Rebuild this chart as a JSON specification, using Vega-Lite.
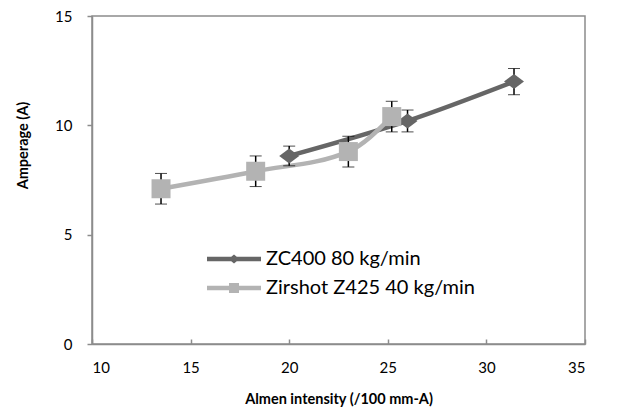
{
  "$schema": "https://vega.github.io/schema/vega-lite/v6.json",
  "width": 493,
  "height": 328,
  "autosize": {"type": "none"},
  "padding": {"left": 92, "top": 16, "right": 40, "bottom": 66},
  "background": "white",
  "config": {
    "font": "Lato",
    "view": {"stroke": "#8c8c8c", "strokeWidth": 1.5},
    "axis": {
      "grid": false,
      "domainColor": "#8c8c8c",
      "domainWidth": 1.5,
      "tickColor": "#8c8c8c",
      "tickWidth": 1.5,
      "labelFont": "Lato",
      "labelFontSize": 15,
      "labelColor": "#000000",
      "titleFont": "Lato",
      "titleFontSize": 14.5,
      "titleFontWeight": "bold",
      "titleColor": "#000000"
    },
    "legend": {
      "title": null,
      "orient": "none",
      "legendX": 132,
      "legendY": 233,
      "labelFont": "Lato",
      "labelFontSize": 20,
      "labelColor": "#000000",
      "labelLimit": 400,
      "symbolSize": 100,
      "labelOffset": 22,
      "rowPadding": 9
    }
  },
  "data": {
    "values": [
      {"series": "ZC400 80 kg/min", "x": 20.0, "y": 8.6, "err": 0.45},
      {"series": "ZC400 80 kg/min", "x": 26.0, "y": 10.2, "err": 0.5},
      {"series": "ZC400 80 kg/min", "x": 31.4, "y": 12.0, "err": 0.6},
      {"series": "Zirshot Z425 40 kg/min", "x": 13.5, "y": 7.1, "err": 0.7},
      {"series": "Zirshot Z425 40 kg/min", "x": 18.3, "y": 7.9, "err": 0.7},
      {"series": "Zirshot Z425 40 kg/min", "x": 23.0, "y": 8.8, "err": 0.7},
      {"series": "Zirshot Z425 40 kg/min", "x": 25.2, "y": 10.4, "err": 0.7}
    ]
  },
  "encoding": {
    "x": {
      "field": "x",
      "type": "quantitative",
      "scale": {"domain": [10, 35], "nice": false, "zero": false},
      "axis": {
        "title": "Almen intensity (/100 mm-A)",
        "values": [10, 15, 20, 25, 30, 35],
        "tickSize": -5,
        "labelPadding": 21,
        "titleAnchor": "middle",
        "titleY": 55,
        "titleBaseline": "middle"
      }
    },
    "y": {
      "field": "y",
      "type": "quantitative",
      "scale": {"domain": [0, 15], "nice": false},
      "axis": {
        "title": "Amperage (A)",
        "values": [0, 5, 10, 15],
        "tickSize": 5,
        "labelPadding": 15,
        "titleX": -69,
        "titleY": 129,
        "titleAngle": -90,
        "titleAlign": "center",
        "titleBaseline": "middle"
      }
    },
    "color": {
      "field": "series",
      "type": "nominal",
      "scale": {"domain": ["ZC400 80 kg/min", "Zirshot Z425 40 kg/min"], "range": ["#666666", "#b3b3b3"]},
      "legend": {
        "encode": {
          "symbols": {
            "update": {
              "shape": {"signal": "datum.value === 'ZC400 80 kg/min' ? 'M-5.4,-0.45H5.4V0.45H-5.4Z M-1.1,0L0,-0.9L1.1,0L0,0.9Z' : 'M-5.4,-0.45H5.4V0.45H-5.4Z M-1,-1H1V1H-1Z'"},
              "fill": {"signal": "datum.value === 'ZC400 80 kg/min' ? '#666666' : '#b3b3b3'"},
              "fillOpacity": {"value": 1},
              "strokeWidth": {"value": 0}
            }
          }
        }
      }
    }
  },
  "layer": [
    {
      "mark": {"type": "line", "interpolate": "monotone", "strokeWidth": 4.5},
      "encoding": {
        "order": {"field": "x", "type": "quantitative"}
      }
    },
    {
      "mark": {
        "type": "errorbar",
        "color": "black",
        "ticks": {"size": 12, "strokeWidth": 2, "color": "black"},
        "rule": {"strokeWidth": 1.5, "color": "black"}
      },
      "encoding": {
        "yError": {"field": "err"},
        "color": {"value": "black"}
      }
    },
    {
      "transform": [{"filter": "datum.series === 'ZC400 80 kg/min'"}],
      "mark": {"type": "point", "filled": true, "opacity": 1, "size": 400, "shape": "M-1,0L0,-0.75L1,0L0,0.75Z"}
    },
    {
      "transform": [{"filter": "datum.series === 'Zirshot Z425 40 kg/min'"}],
      "mark": {"type": "point", "filled": true, "opacity": 1, "size": 361, "shape": "square"}
    }
  ]
}
